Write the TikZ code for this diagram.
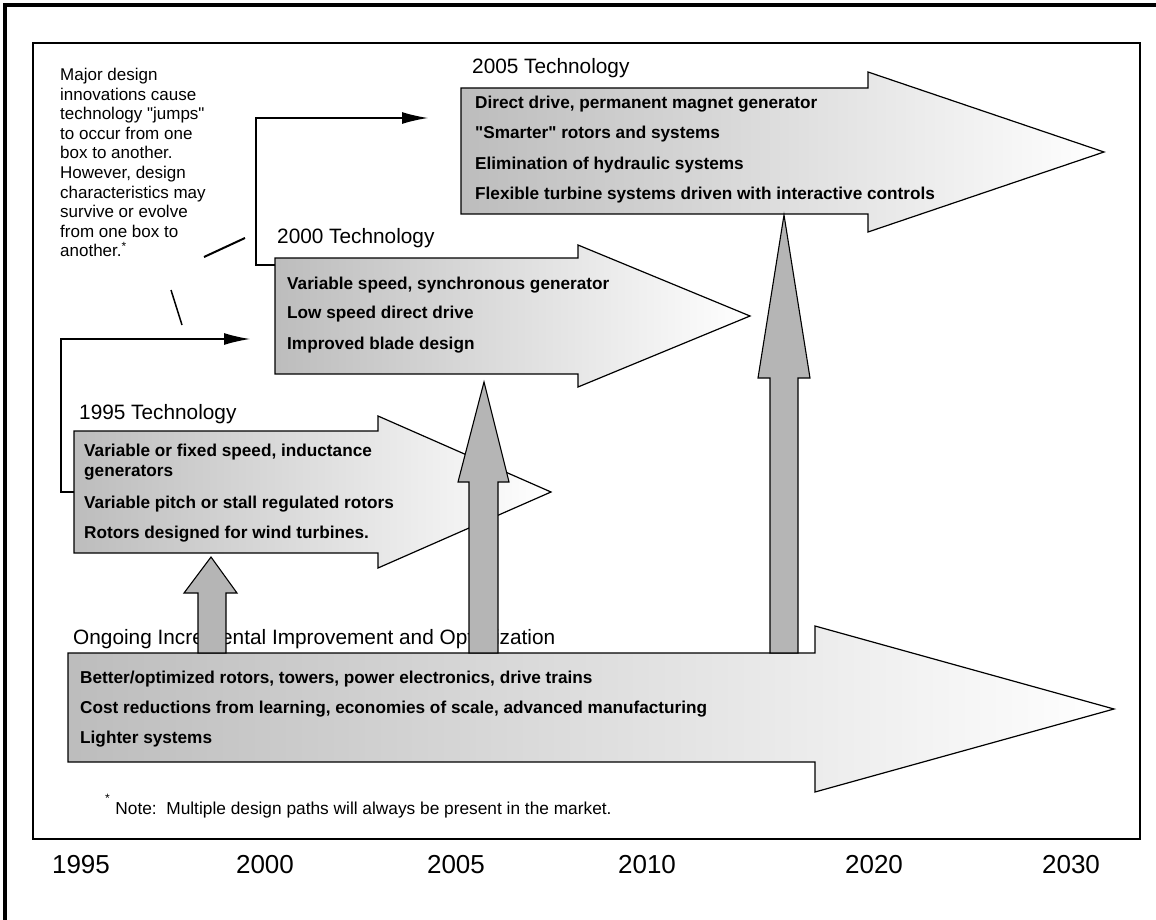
\documentclass[tikz,border=0pt]{standalone}
\usepackage{fontspec}
\setmainfont{Liberation Sans}
\usetikzlibrary{arrows.meta}

\begin{document}
\begin{tikzpicture}[x=1pt,y=-1pt,>=Latex,
  techarrow/.style={draw=black,line width=1.2pt,left color=gray!52,middle color=gray!32,right color=white},
  liftarrow/.style={draw=black,line width=1.1pt,fill=gray!58},
  headline/.style={anchor=base west,inner sep=0pt,font=\fontsize{20.8}{24}\selectfont},
  boxline/.style={anchor=base west,inner sep=0pt,font=\bfseries\fontsize{17.2}{20}\selectfont},
  notetext/.style={anchor=north west,inner sep=0pt,align=left,font=\fontsize{17}{19.6}\selectfont},
  yearlbl/.style={inner sep=0pt,font=\fontsize{26}{30}\selectfont},
  jump/.style={line width=1.4pt,-{Latex[length=26pt,width=12pt]}}]
  \useasboundingbox (0,0) rectangle (1156,920);
  % frames
  \draw[line width=3.5pt] (5,920) -- (5,5) -- (1156,5);
  \draw[line width=1.8pt] (33,43) rectangle (1140,839);

  % technology arrows
  \path[techarrow] (74,431) -- (378,431) -- (378,416) -- (551,492) -- (378,568) -- (378,553) -- (74,553) -- cycle;
  \path[techarrow] (275,258) -- (578,258) -- (578,245) -- (750,316) -- (578,387) -- (578,374) -- (275,374) -- cycle;
  \path[techarrow] (461,88) -- (868,88) -- (868,72) -- (1104,152) -- (868,232) -- (868,214) -- (461,214) -- cycle;
  \path[techarrow] (68,653) -- (815,653) -- (815,626) -- (1114,709) -- (815,792) -- (815,762) -- (68,762) -- cycle;

  % titles
  \node[headline] (h2005) at (472,74) {2005 Technology};
  \node[headline] (h2000) at (277,243) {2000 Technology};
  \node[headline] (h1995) at (79,419) {1995 Technology};
  \node[headline] (hbase) at (73,644) {Ongoing Incremental Improvement and Optimization};

  % box contents
  \node[boxline] (t05a) at (475,109) {Direct drive, permanent magnet generator};
  \node[boxline] (t05b) at (475,139) {\textquotedbl Smarter\textquotedbl{} rotors and systems};
  \node[boxline] (t05c) at (475,170) {Elimination of hydraulic systems};
  \node[boxline] (t05d) at (475,200) {Flexible turbine systems driven with interactive controls};

  \node[boxline] (t00a) at (287,289) {Variable speed, synchronous generator};
  \node[boxline] (t00b) at (287,318) {Low speed direct drive};
  \node[boxline] (t00c) at (287,349) {Improved blade design};

  \node[boxline] (t95a) at (84,456) {Variable or fixed speed, inductance};
  \node[boxline] (t95b) at (84,476) {generators};
  \node[boxline] (t95c) at (84,508) {Variable pitch or stall regulated rotors};
  \node[boxline] (t95d) at (84,538) {Rotors designed for wind turbines.};

  \node[boxline] (tba) at (80,683) {Better/optimized rotors, towers, power electronics, drive trains};
  \node[boxline] (tbb) at (80,713) {Cost reductions from learning, economies of scale, advanced manufacturing};
  \node[boxline] (tbc) at (80,743) {Lighter systems};

  % lift arrows from the ongoing improvement
  \path[liftarrow] (198,653) -- (198,593) -- (184,593) -- (211,557) -- (237,593) -- (226,593) -- (226,653) -- cycle;
  \path[liftarrow] (469,653) -- (469,482) -- (458,482) -- (484,382) -- (509,482) -- (498,482) -- (498,653) -- cycle;
  \path[liftarrow] (770,653) -- (770,378) -- (758,378) -- (784,215) -- (810,378) -- (798,378) -- (798,653) -- cycle;

  % jumps between boxes
  \node[notetext] (note) at (60,68) {Major design\\innovations cause\\technology \textquotedbl jumps\textquotedbl\\to occur from one\\box to another.\\However, design\\characteristics may\\survive or evolve\\from one box to\\another.\textsuperscript{*}};
  \coordinate (out2000) at (275,265);
  \coordinate (in2005) at (428,118);
  \coordinate (out1995) at (74,492);
  \coordinate (in2000) at (250,339);
  \draw[jump] (out2000) -- ++(-19,0) |- (in2005);
  \draw[jump] (out1995) -- ++(-13,0) |- (in2000);
  \coordinate (pa1) at (204,257);
  \coordinate (pa2) at (245,238);
  \coordinate (pb1) at (171,290);
  \coordinate (pb2) at (182,325);
  \draw[line width=2pt] (pa1) -- (pa2);
  \draw[line width=1.5pt] (pb1) -- (pb2);

  \node[anchor=base west,inner sep=0pt,font=\fontsize{17.3}{20}\selectfont] (fnote) at (105,814) {\raisebox{5pt}{\textsuperscript{*}}\hspace{5pt}Note:\ \ Multiple design paths will always be present in the market.};

  % time axis
  \node[yearlbl] (y1995) at (81,865) {1995};
  \node[yearlbl] (y2000) at (265,865) {2000};
  \node[yearlbl] (y2005) at (456,865) {2005};
  \node[yearlbl] (y2010) at (647,865) {2010};
  \node[yearlbl] (y2020) at (874,865) {2020};
  \node[yearlbl] (y2030) at (1071,865) {2030};
\end{tikzpicture}
\end{document}
